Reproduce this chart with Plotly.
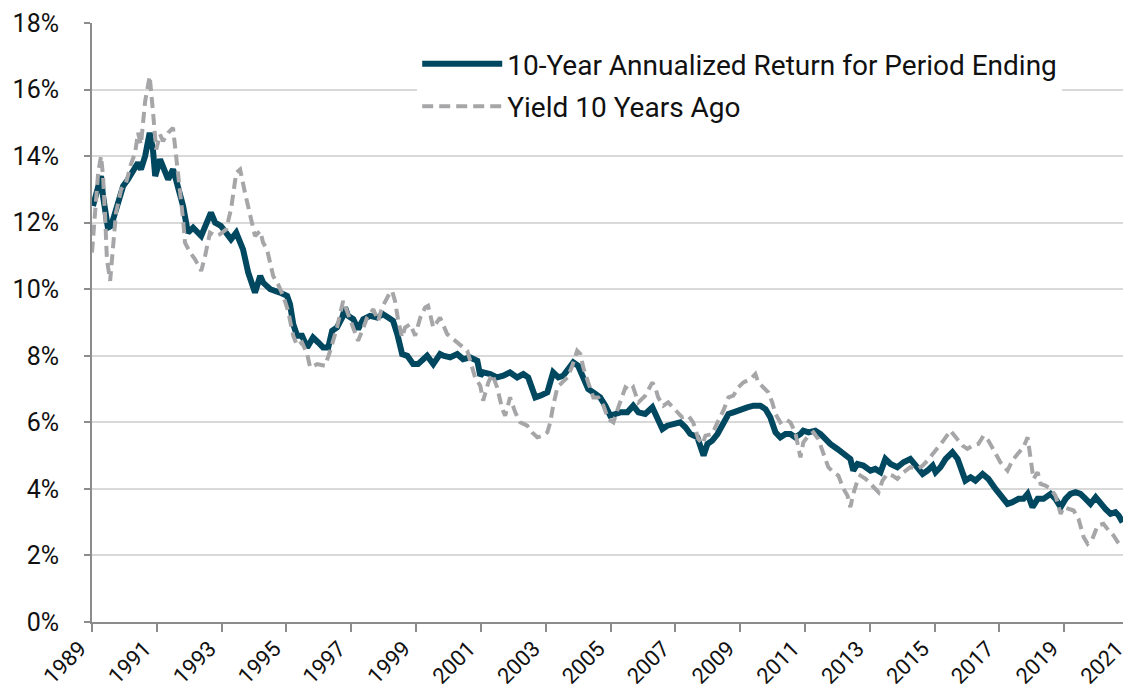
import plotly.graph_objects as go

# 10-Year Annualized Return for Period Ending (x in decimal years, y in %)
ret_x = [1989.03, 1989.19, 1989.28, 1989.34, 1989.49, 1989.59, 1989.80, 1989.96, 1990.11, 1990.27,
         1990.42, 1990.51, 1990.64, 1990.78, 1990.88, 1990.95, 1991.10, 1991.35, 1991.50, 1991.59,
         1991.81, 1991.96, 1992.12, 1992.37, 1992.52, 1992.67, 1992.80, 1992.98, 1993.29, 1993.45,
         1993.66, 1993.82, 1994.03, 1994.19, 1994.28, 1994.50, 1994.80, 1995.02, 1995.11, 1995.21,
         1995.33, 1995.48, 1995.64, 1995.82, 1995.98, 1996.13, 1996.29, 1996.41, 1996.56, 1996.72,
         1996.81, 1996.90, 1997.06, 1997.21, 1997.37, 1997.58, 1997.80, 1997.98, 1998.14, 1998.29,
         1998.42, 1998.57, 1998.73, 1998.91, 1999.06, 1999.34, 1999.53, 1999.74, 1999.84, 2000.05,
         2000.27, 2000.45, 2000.67, 2000.89, 2000.98, 2001.07, 2001.29, 2001.50, 2001.69, 2001.90,
         2002.12, 2002.31, 2002.46, 2002.58, 2002.68, 2002.83, 2003.05, 2003.23, 2003.39, 2003.54,
         2003.70, 2003.85, 2004.00, 2004.16, 2004.31, 2004.47, 2004.68, 2004.84, 2004.99, 2005.15,
         2005.30, 2005.52, 2005.70, 2005.86, 2006.07, 2006.29, 2006.44, 2006.60, 2006.75, 2006.94,
         2007.15, 2007.31, 2007.46, 2007.68, 2007.77, 2007.87, 2007.99, 2008.14, 2008.30, 2008.48,
         2008.64, 2008.79, 2009.01, 2009.22, 2009.41, 2009.62, 2009.78, 2009.93, 2010.02, 2010.09,
         2010.24, 2010.40, 2010.55, 2010.70, 2010.86, 2010.95, 2011.11, 2011.32, 2011.48, 2011.63,
         2011.78, 2012.00, 2012.19, 2012.40, 2012.49, 2012.62, 2012.80, 2013.02, 2013.17, 2013.33,
         2013.48, 2013.64, 2013.85, 2014.04, 2014.25, 2014.47, 2014.63, 2014.78, 2014.94, 2015.03,
         2015.18, 2015.34, 2015.55, 2015.71, 2015.86, 2015.95, 2016.11, 2016.26, 2016.48, 2016.66,
         2016.88, 2017.09, 2017.25, 2017.40, 2017.59, 2017.74, 2017.87, 2018.02, 2018.18, 2018.36,
         2018.58, 2018.73, 2018.89, 2019.04, 2019.19, 2019.35, 2019.50, 2019.66, 2019.81, 2019.97,
         2020.12, 2020.27, 2020.43, 2020.58, 2020.68, 2020.80]
ret_y = [12.5, 13.1, 13.4, 12.8, 11.85, 11.9, 12.6, 13.1, 13.3, 13.6,
         13.8, 13.6, 14.0, 14.7, 14.2, 13.4, 13.9, 13.3, 13.6, 13.3,
         12.5, 11.7, 11.85, 11.6, 12.0, 12.3, 12.0, 11.9, 11.5, 11.7,
         11.2, 10.5, 9.9, 10.4, 10.2, 10.0, 9.9, 9.8, 9.55, 8.95,
         8.6, 8.6, 8.25, 8.55, 8.4, 8.25, 8.25, 8.75, 8.85, 9.15,
         9.45, 9.2, 9.1, 8.8, 9.1, 9.2, 9.15, 9.25, 9.15, 9.05,
         8.65, 8.05, 8.0, 7.75, 7.75, 8.0, 7.75, 8.05, 8.0, 7.95,
         8.05, 7.9, 7.95, 7.85, 7.4, 7.5, 7.45, 7.35, 7.4, 7.5,
         7.35, 7.45, 7.35, 7.0, 6.75, 6.8, 6.9, 7.5, 7.35, 7.4,
         7.65, 7.8, 7.7, 7.35, 7.0, 6.9, 6.75, 6.5, 6.2, 6.25,
         6.3, 6.3, 6.5, 6.3, 6.25, 6.45, 6.15, 5.8, 5.9, 5.95,
         6.0, 5.85, 5.65, 5.55, 5.3, 5.0, 5.35, 5.45, 5.65, 6.0,
         6.25, 6.3, 6.4, 6.45, 6.5, 6.5, 6.4, 6.15, 5.9, 5.7,
         5.55, 5.65, 5.65, 5.55, 5.65, 5.75, 5.7, 5.75, 5.65, 5.5,
         5.35, 5.2, 5.05, 4.9, 4.55, 4.75, 4.7, 4.55, 4.6, 4.5,
         4.9, 4.75, 4.65, 4.8, 4.9, 4.6, 4.45, 4.55, 4.7, 4.5,
         4.65, 4.9, 5.1, 4.9, 4.5, 4.25, 4.35, 4.25, 4.45, 4.3,
         4.0, 3.7, 3.55, 3.6, 3.7, 3.7, 3.85, 3.45, 3.7, 3.7,
         3.85, 3.7, 3.45, 3.7, 3.85, 3.9, 3.85, 3.7, 3.55, 3.75,
         3.55, 3.4, 3.25, 3.3, 3.2, 3.0]

# Yield 10 Years Ago (x in decimal years, y in %)
yld_x = [1989.00, 1989.09, 1989.19, 1989.28, 1989.34, 1989.40, 1989.46, 1989.56, 1989.65, 1989.74,
         1989.90, 1990.05, 1990.20, 1990.33, 1990.42, 1990.51, 1990.64, 1990.73, 1990.78, 1990.88,
         1990.98, 1991.10, 1991.19, 1991.35, 1991.50, 1991.59, 1991.72, 1991.81, 1991.87, 1992.03,
         1992.18, 1992.37, 1992.49, 1992.64, 1992.80, 1992.95, 1993.14, 1993.29, 1993.45, 1993.57,
         1993.72, 1993.88, 1994.03, 1994.19, 1994.28, 1994.40, 1994.59, 1994.74, 1994.90, 1995.05,
         1995.21, 1995.33, 1995.48, 1995.64, 1995.73, 1995.95, 1996.19, 1996.35, 1996.56, 1996.75,
         1996.87, 1996.97, 1997.12, 1997.21, 1997.34, 1997.49, 1997.68, 1997.83, 1997.95, 1998.14,
         1998.26, 1998.35, 1998.45, 1998.57, 1998.66, 1998.82, 1998.97, 1999.13, 1999.28, 1999.37,
         1999.53, 1999.74, 1999.96, 2000.27, 2000.36, 2000.58, 2000.73, 2000.82, 2000.98, 2001.07,
         2001.23, 2001.35, 2001.50, 2001.66, 2001.75, 2001.90, 2002.06, 2002.21, 2002.43, 2002.58,
         2002.74, 2002.92, 2003.05, 2003.14, 2003.23, 2003.36, 2003.51, 2003.67, 2003.82, 2003.97,
         2004.07, 2004.16, 2004.31, 2004.47, 2004.62, 2004.78, 2004.93, 2005.09, 2005.24, 2005.46,
         2005.61, 2005.70, 2005.86, 2006.07, 2006.29, 2006.38, 2006.47, 2006.63, 2006.78, 2007.00,
         2007.21, 2007.40, 2007.55, 2007.71, 2007.84, 2007.93, 2008.14, 2008.30, 2008.48, 2008.64,
         2008.79, 2008.94, 2009.10, 2009.32, 2009.47, 2009.56, 2009.72, 2009.87, 2009.99, 2010.09,
         2010.24, 2010.40, 2010.55, 2010.70, 2010.86, 2010.95, 2011.11, 2011.26, 2011.41, 2011.57,
         2011.72, 2011.88, 2012.03, 2012.19, 2012.31, 2012.40, 2012.49, 2012.62, 2012.71, 2012.87,
         2013.02, 2013.17, 2013.27, 2013.39, 2013.54, 2013.70, 2013.85, 2014.04, 2014.25, 2014.47,
         2014.63, 2014.78, 2014.94, 2015.09, 2015.27, 2015.49, 2015.71, 2015.86, 2016.01, 2016.17,
         2016.35, 2016.51, 2016.66, 2016.82, 2017.03, 2017.25, 2017.40, 2017.56, 2017.74, 2017.87,
         2017.96, 2018.05, 2018.18, 2018.27, 2018.42, 2018.58, 2018.73, 2018.89, 2018.98, 2019.13,
         2019.29, 2019.44, 2019.60, 2019.72, 2019.87, 2020.03, 2020.21, 2020.37, 2020.52, 2020.65,
         2020.74]
yld_y = [11.1, 12.3, 13.5, 14.0, 13.4, 12.3, 10.9, 10.25, 11.2, 12.3,
         13.0, 13.2, 13.75, 14.1, 14.7, 14.35, 15.65, 16.25, 16.4, 15.35,
         14.2, 14.65, 14.45, 14.7, 14.85, 14.05, 13.0, 12.1, 11.4, 11.1,
         10.9, 10.55, 11.0, 11.7, 11.6, 11.65, 11.8, 12.4, 13.5, 13.6,
         12.9, 12.2, 11.6, 11.75, 11.4, 11.2, 10.4, 10.15, 9.8, 9.35,
         8.6, 8.3, 8.4, 8.05, 7.65, 7.75, 7.7, 8.15, 8.85, 9.65,
         9.35, 9.05, 8.65, 8.45, 8.75, 9.15, 9.4, 9.05, 9.45, 9.8,
         9.95, 9.65, 9.05, 8.55, 8.85, 8.95, 8.6, 9.15, 9.45, 9.5,
         8.85, 9.15, 8.65, 8.4, 8.3, 8.15, 7.65, 7.35, 7.1, 6.65,
         7.2, 7.45, 7.05, 6.4, 6.2, 6.75, 6.3, 6.0, 5.9, 5.7,
         5.55, 5.6, 5.7, 6.0, 6.5, 7.05, 7.2, 7.35, 7.7, 8.15,
         8.05, 7.65, 7.2, 6.75, 6.75, 6.5, 6.1, 6.0, 6.45, 7.05,
         6.95, 7.05, 6.6, 6.8, 7.2, 7.05, 6.75, 6.5, 6.6, 6.35,
         6.15, 6.2, 6.0, 5.5, 5.35, 5.6, 5.65, 6.0, 6.35, 6.75,
         6.8, 7.05, 7.2, 7.3, 7.45, 7.2, 7.05, 6.9, 6.6, 6.25,
         6.0, 6.1, 6.0, 5.7, 4.95, 5.4, 5.6, 5.7, 5.5, 5.1,
         4.65, 4.5, 4.4, 4.0, 3.8, 3.45, 3.85, 4.25, 4.4, 4.3,
         4.15, 4.0, 3.9, 4.25, 4.45, 4.4, 4.3, 4.5, 4.65, 4.6,
         4.7, 4.85, 5.05, 5.2, 5.45, 5.75, 5.5, 5.3, 5.2, 5.3,
         5.35, 5.6, 5.45, 5.15, 4.8, 4.55, 4.85, 5.05, 5.25, 5.55,
         4.95, 4.3, 4.5, 4.15, 4.1, 4.0, 3.8, 3.25, 3.45, 3.4,
         3.35, 3.1, 2.55, 2.35, 2.5, 2.9, 2.95, 2.75, 2.6, 2.4,
         2.3]

year_ticks = list(range(1989, 2022, 2))
year_labels = [str(y) for y in year_ticks]
pct_ticks = list(range(0, 19, 2))
pct_labels = [f"{v}%" for v in pct_ticks]

FONT = "Roboto, 'Liberation Sans', sans-serif"
AXIS_COLOR = "#8c8c8c"

fig = go.Figure()
fig.add_trace(go.Scatter(
    x=ret_x, y=ret_y, mode="lines",
    name="10-Year Annualized Return for Period Ending",
    legendgroup="a",
    line=dict(color="#004760", width=6),
))
fig.add_trace(go.Scatter(
    x=yld_x, y=yld_y, mode="lines",
    name="Yield 10 Years Ago",
    legendgroup="b",
    line=dict(color="#a6a6a8", width=4, dash="11px,6px"),
))

# the page body has an 8px default margin, so the figure is sized/margined to compensate
fig.update_layout(
    width=1123, height=686,
    margin=dict(l=84, r=0, t=15, b=72, autoexpand=False),
    paper_bgcolor="white", plot_bgcolor="white",
    font=dict(family=FONT, color="#111111", size=22),
    showlegend=True,
    legend=dict(
        x=0.313, y=0.973, xanchor="left", yanchor="top",
        bgcolor="white", borderwidth=0,
        font=dict(family=FONT, size=28, color="#111111"),
        itemwidth=80,
        traceorder="grouped", tracegroupgap=3,
    ),
    xaxis=dict(
        range=[1989, 2021.06],
        tickmode="array", tickvals=year_ticks, ticktext=year_labels,
        tickangle=-45,
        showgrid=False, zeroline=False,
        showline=True, linecolor=AXIS_COLOR, linewidth=2,
        ticks="outside", ticklen=8, tickcolor=AXIS_COLOR, tickwidth=2,
        ticklabeloverflow="allow",
        ticklabelstandoff=-5,
        ticklabelshift=-12,
        automargin=False,
        tickfont=dict(family=FONT, size=22, color="#111111"),
    ),
    yaxis=dict(
        range=[0, 18],
        tickmode="array", tickvals=pct_ticks, ticktext=pct_labels,
        showgrid=True, gridcolor="#d9d9d9", gridwidth=2,
        zeroline=False,
        showline=True, linecolor=AXIS_COLOR, linewidth=2,
        ticks="outside", ticklen=6, tickcolor=AXIS_COLOR, tickwidth=2,
        ticklabelstandoff=20,
        automargin=False,
        tickfont=dict(family=FONT, size=25, color="#111111"),
    ),
)

fig.write_html("out.html")
